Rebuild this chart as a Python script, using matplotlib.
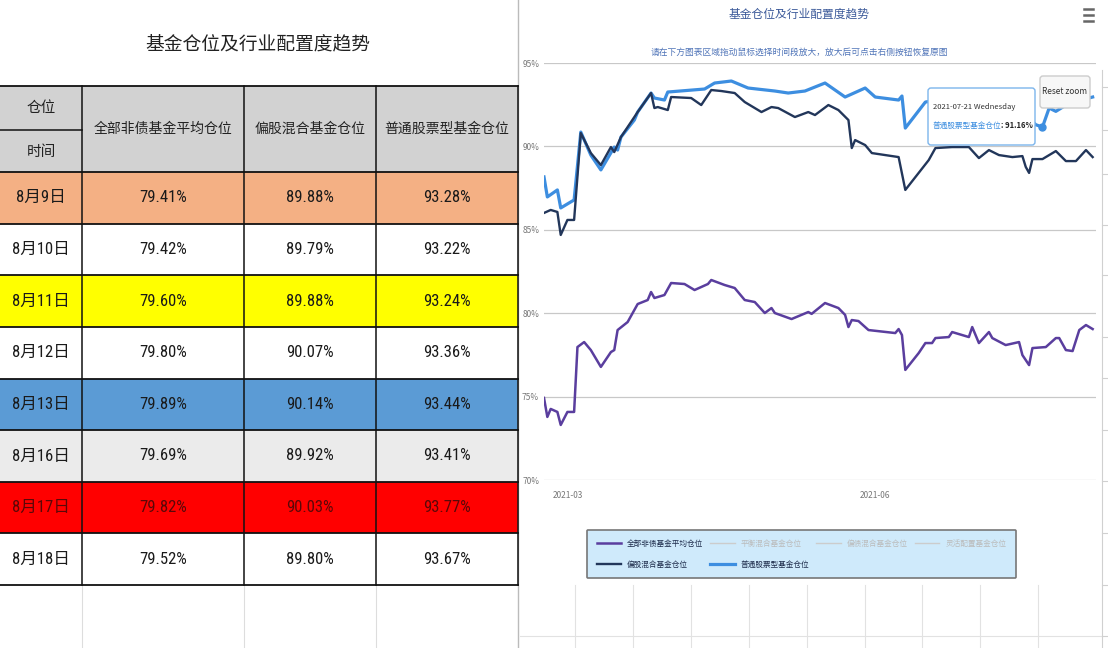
import numpy as np
import pandas as pd
import matplotlib
matplotlib.use("Agg")
import matplotlib.pyplot as plt
import matplotlib.dates as mdates
from matplotlib.patches import Rectangle, FancyBboxPatch
from matplotlib import font_manager as fm

# ---- table data (left panel) ----
table_dates = ["8月9日", "8月10日", "8月11日", "8月12日", "8月13日", "8月16日", "8月17日", "8月18日"]
all_nonbond = [79.41, 79.42, 79.60, 79.80, 79.89, 79.69, 79.82, 79.52]
mixed_equity = [89.88, 89.79, 89.88, 90.07, 90.14, 89.92, 90.03, 89.80]
stock_fund = [93.28, 93.22, 93.24, 93.36, 93.44, 93.41, 93.77, 93.67]
table_cols = ["全部非债基金平均仓位", "偏股混合基金仓位", "普通股票型基金仓位"]

# ---- line chart data (right panel) ----
purple_dates = ["2021-02-22", "2021-02-23", "2021-02-24", "2021-02-26", "2021-02-27", "2021-03-01",
                "2021-03-03", "2021-03-04", "2021-03-06", "2021-03-08", "2021-03-11", "2021-03-14",
                "2021-03-15", "2021-03-16", "2021-03-19", "2021-03-21", "2021-03-22", "2021-03-25",
                "2021-03-26", "2021-03-27", "2021-03-30", "2021-04-01", "2021-04-05", "2021-04-08",
                "2021-04-12", "2021-04-13", "2021-04-17", "2021-04-20", "2021-04-23", "2021-04-26",
                "2021-04-29", "2021-05-01", "2021-05-02", "2021-05-07", "2021-05-12", "2021-05-13",
                "2021-05-17", "2021-05-21", "2021-05-23", "2021-05-24", "2021-05-25", "2021-05-27",
                "2021-05-30", "2021-06-07", "2021-06-08", "2021-06-09", "2021-06-10", "2021-06-14",
                "2021-06-16", "2021-06-18", "2021-06-19", "2021-06-23", "2021-06-24", "2021-06-29",
                "2021-06-30", "2021-07-02", "2021-07-05", "2021-07-06", "2021-07-10", "2021-07-14",
                "2021-07-15", "2021-07-17", "2021-07-18", "2021-07-22", "2021-07-25", "2021-07-26",
                "2021-07-28", "2021-07-30", "2021-08-01", "2021-08-03", "2021-08-05"]
purple_vals = [74.92, 73.78, 74.26, 74.08, 73.30, 74.08,
               74.08, 77.97, 78.27, 77.79, 76.78, 77.67,
               77.79, 78.99, 79.47, 80.19, 80.55, 80.79,
               81.27, 80.91, 81.09, 81.81, 81.75, 81.39,
               81.75, 81.99, 81.69, 81.51, 80.79, 80.67,
               80.01, 80.31, 80.01, 79.65, 80.07, 79.96,
               80.61, 80.31, 79.90, 79.17, 79.59, 79.53,
               78.99, 78.81, 79.05, 78.69, 76.60, 77.61,
               78.21, 78.21, 78.51, 78.57, 78.87, 78.57,
               79.17, 78.21, 78.87, 78.51, 78.09, 78.27,
               77.49, 76.89, 77.91, 77.97, 78.51, 78.51,
               77.79, 77.73, 78.99, 79.29, 79.05]

navy_dates = ["2021-02-22", "2021-02-24", "2021-02-26", "2021-02-27", "2021-03-01", "2021-03-03",
              "2021-03-05", "2021-03-08", "2021-03-11", "2021-03-14", "2021-03-15", "2021-03-17",
              "2021-03-22", "2021-03-26", "2021-03-27", "2021-03-28", "2021-03-31", "2021-04-01",
              "2021-04-07", "2021-04-10", "2021-04-13", "2021-04-16", "2021-04-20", "2021-04-23",
              "2021-04-28", "2021-05-01", "2021-05-03", "2021-05-08", "2021-05-12", "2021-05-14",
              "2021-05-18", "2021-05-21", "2021-05-24", "2021-05-25", "2021-05-26", "2021-05-29",
              "2021-05-31", "2021-06-04", "2021-06-08", "2021-06-10", "2021-06-17", "2021-06-19",
              "2021-06-24", "2021-06-29", "2021-07-02", "2021-07-05", "2021-07-08", "2021-07-12",
              "2021-07-15", "2021-07-16", "2021-07-17", "2021-07-18", "2021-07-21", "2021-07-25",
              "2021-07-28", "2021-07-31", "2021-08-03", "2021-08-05"]
navy_vals = [86.01, 86.19, 86.07, 84.69, 85.59, 85.59,
             90.80, 89.60, 88.88, 89.96, 89.66, 90.56,
             92.06, 93.20, 92.30, 92.36, 92.18, 92.96,
             92.90, 92.48, 93.38, 93.32, 93.20, 92.66,
             92.06, 92.36, 92.30, 91.76, 92.06, 91.88,
             92.48, 92.18, 91.58, 89.90, 90.38, 90.08,
             89.60, 89.48, 89.36, 87.39, 89.18, 89.90,
             89.96, 89.96, 89.30, 89.78, 89.48, 89.36,
             89.42, 88.77, 88.41, 89.24, 89.24, 89.72,
             89.12, 89.12, 89.78, 89.36]

blue_dates = ["2021-02-22", "2021-02-23", "2021-02-26", "2021-02-27", "2021-03-03", "2021-03-05",
              "2021-03-08", "2021-03-11", "2021-03-15", "2021-03-16", "2021-03-17", "2021-03-21",
              "2021-03-22", "2021-03-26", "2021-03-27", "2021-03-30", "2021-03-31", "2021-04-11",
              "2021-04-14", "2021-04-19", "2021-04-24", "2021-05-02", "2021-05-06", "2021-05-11",
              "2021-05-17", "2021-05-23", "2021-05-29", "2021-06-01", "2021-06-08", "2021-06-09",
              "2021-06-10", "2021-06-16", "2021-06-22", "2021-06-29", "2021-07-06", "2021-07-13",
              "2021-07-19", "2021-07-21", "2021-07-23", "2021-07-25", "2021-07-29", "2021-08-02",
              "2021-08-05"]
blue_vals = [88.17, 86.97, 87.39, 86.31, 86.79, 90.86,
             89.48, 88.59, 89.96, 89.78, 90.56, 91.58,
             92.06, 93.20, 92.90, 92.78, 93.26, 93.44,
             93.80, 93.92, 93.50, 93.32, 93.20, 93.32,
             93.80, 92.96, 93.50, 92.96, 92.78, 93.02,
             91.10, 92.66, 92.85, 92.60, 92.90, 92.45,
             91.30, 91.16, 92.30, 92.10, 92.60, 92.80,
             92.96]

hidden_names = ["平衡混合基金仓位", "偏债混合基金仓位", "灵活配置基金仓位"]
hover_date = "2021-07-21"

W, H = 1108, 648
names = {f.name for f in fm.fontManager.ttflist}
narrow = None
for cand in ["Liberation Sans Narrow", "DejaVu Sans Condensed", "Roboto Condensed", "Open Sans Condensed"]:
    if cand in names:
        narrow = cand
        break
plt.rcParams["font.family"] = ["Noto Sans CJK SC", "DejaVu Sans"]
if narrow:
    num_font = [narrow, "Noto Sans CJK SC"]
    num_size = 12
else:
    num_font = ["Noto Sans CJK SC", "DejaVu Sans"]
    num_size = 11

fig = plt.figure(figsize=(W / 100, H / 100), dpi=100)
fig.patch.set_facecolor("white")

# background pixel axes for the table and sheet lines
bg = fig.add_axes([0, 0, 1, 1], zorder=0)
bg.set_xlim(0, W)
bg.set_ylim(H, 0)
bg.axis("off")

# faint spreadsheet lines
bg.plot([518, 518], [0, H], color="#bbbbbb", lw=1)
for x in [82, 244, 376]:
    bg.plot([x, x], [585, H], color="#dddddd", lw=0.8)
for x in [575, 633, 691, 749, 807, 865, 922, 980, 1038]:
    bg.plot([x, x], [585, H], color="#e2e2e2", lw=0.8)
bg.plot([520, 1102], [636, 636], color="#e2e2e2", lw=0.8)
bg.plot([1102, 1102], [70, H], color="#d0d0d0", lw=0.8)
for y in [87, 130, 174, 225, 275, 337, 378, 430, 481, 533, 585, 636]:
    bg.plot([1102, 1108], [y, y], color="#d0d0d0", lw=0.8)

# table
bg.text(258, 44, "基金仓位及行业配置度趋势", fontsize=13.5, ha="center", va="center", color="#222222")
col_x = [0, 82, 244, 376, 518]
top, mid, body = 86, 130, 172
row_h = (585 - body) / len(table_dates)
row_fill = ["#F4B084", "white", "#FFFF00", "white", "#5B9BD5", "#EBEBEB", "#FF0000", "white"]
bg.add_patch(Rectangle((0, top), 518, body - top, fc="#d2d2d2", ec="none"))
for i, d in enumerate(table_dates):
    y0 = body + i * row_h
    bg.add_patch(Rectangle((0, y0), 518, row_h, fc=row_fill[i], ec="none"))
    tc = "#5a0808" if row_fill[i] == "#FF0000" else "#1a1a1a"
    yc = y0 + row_h / 2
    bg.text(41, yc, d, fontsize=num_size, ha="center", va="center", color=tc, family=num_font)
    for j, vals in enumerate([all_nonbond, mixed_equity, stock_fund]):
        cx = (col_x[j + 1] + col_x[j + 2]) / 2
        bg.text(cx, yc, f"{vals[i]:.2f}%", fontsize=num_size, ha="center", va="center",
                color=tc, family=num_font)

bg.text(41, 108, "仓位", fontsize=10.5, ha="center", va="center", color="#222222")
bg.text(41, 152, "时间", fontsize=10.5, ha="center", va="center", color="#222222")
for j, name in enumerate(table_cols):
    cx = (col_x[j + 1] + col_x[j + 2]) / 2
    bg.text(cx, (top + body) / 2, name, fontsize=10, ha="center", va="center", color="#222222")

for k in range(len(table_dates) + 1):
    y = body + k * row_h
    bg.plot([0, 518], [y, y], color="#111111", lw=1.3)
bg.plot([0, 518], [top, top], color="#111111", lw=1.3)
bg.plot([0, 82], [mid, mid], color="#111111", lw=1.1)
for x in col_x[1:]:
    bg.plot([x, x], [top, 585], color="#111111", lw=1.1)

# right chart
ax = fig.add_axes([544 / W, 1 - 480 / H, 552 / W, 417 / H], zorder=1)
ax.patch.set_alpha(0)

blue_c, navy_c, purple_c = "#3d8ee0", "#22365a", "#5a3e9e"
pl, = ax.plot(pd.to_datetime(purple_dates), purple_vals, color=purple_c, lw=1.8, label=table_cols[0])
bl, = ax.plot(pd.to_datetime(blue_dates), blue_vals, color=blue_c, lw=2.3, label=table_cols[2])
nl, = ax.plot(pd.to_datetime(navy_dates), navy_vals, color=navy_c, lw=1.7, label=table_cols[1])
hid = [ax.plot([], [], color="#cccccc", lw=1, label=n)[0] for n in hidden_names]

hv = blue_vals[blue_dates.index(hover_date)]
ax.plot(pd.Timestamp(hover_date), hv, "o", color=blue_c, ms=5, zorder=5)

ax.set_ylim(70, 95)
ax.set_xlim(pd.Timestamp("2021-02-22"), pd.Timestamp("2021-08-06"))
ax.set_yticks([70, 75, 80, 85, 90, 95])
ax.yaxis.set_major_formatter(lambda v, p: f"{v:.0f}%")
ax.set_xticks([pd.Timestamp("2021-03-01"), pd.Timestamp("2021-06-01")])
ax.xaxis.set_major_formatter(mdates.DateFormatter("%Y-%m"))
ax.grid(axis="y", color="#c8c8c8", lw=0.9)
ax.tick_params(length=0, labelsize=6, colors="#777777")
ax.tick_params(axis="x", pad=8)
for s in ax.spines.values():
    s.set_visible(False)

# legend, ordered so that column filling matches the picture
handles = [pl, nl, hid[0], bl, hid[1], hid[2]]
leg = ax.legend(handles=handles, loc="center", bbox_to_anchor=(801.5 / W, 1 - 554 / H),
                bbox_transform=fig.transFigure, ncol=4, fontsize=5.5, frameon=True, fancybox=True,
                facecolor="#cfeafb", edgecolor="#777777", framealpha=1, handlelength=3.2,
                handletextpad=0.8, columnspacing=0.9, labelspacing=1.7, borderpad=1.3)
leg.get_frame().set_linewidth(1.2)
for t, h in zip(leg.get_texts(), handles):
    t.set_color("#bbbbbb" if h in hid else "#1d2b4a")

fig.text(799 / W, 1 - 14 / H, "基金仓位及行业配置度趋势", fontsize=8.5, color="#3c5a9a",
         ha="center", va="center")
fig.text(799 / W, 1 - 52 / H, "请在下方图表区域拖动鼠标选择时间段放大，放大后可点击右侧按钮恢复原图",
         fontsize=6.3, color="#4f74b8", ha="center", va="center")

# overlay: tooltip, reset button, menu icon
fg = fig.add_axes([0, 0, 1, 1], zorder=2)
fg.set_xlim(0, W)
fg.set_ylim(H, 0)
fg.axis("off")
fg.patch.set_alpha(0)

fg.add_patch(FancyBboxPatch((928, 88), 107, 57, boxstyle="round,pad=0,rounding_size=3",
                            fc="white", ec="#7cb5ec", lw=1))
fg.text(933, 107, pd.Timestamp(hover_date).strftime("%Y-%m-%d %A"), fontsize=5.5,
        va="center", color="#333333")
fg.text(933, 126, table_cols[2], fontsize=5.5, va="center", color=blue_c)
fg.text(1001, 126, f": {hv:.2f}%", fontsize=5.5, va="center", color="#222222", weight="bold")

fg.add_patch(FancyBboxPatch((1040, 76), 50, 32, boxstyle="round,pad=0,rounding_size=3",
                            fc="#f7f7f7", ec="#cccccc", lw=1))
fg.text(1065, 92, "Reset zoom", fontsize=6, ha="center", va="center", color="#333333")

for y in [8.5, 14.5, 20.5]:
    fg.plot([1084, 1093], [y, y], color="#666666", lw=1.8)

fig.savefig("out.png", dpi=100)
